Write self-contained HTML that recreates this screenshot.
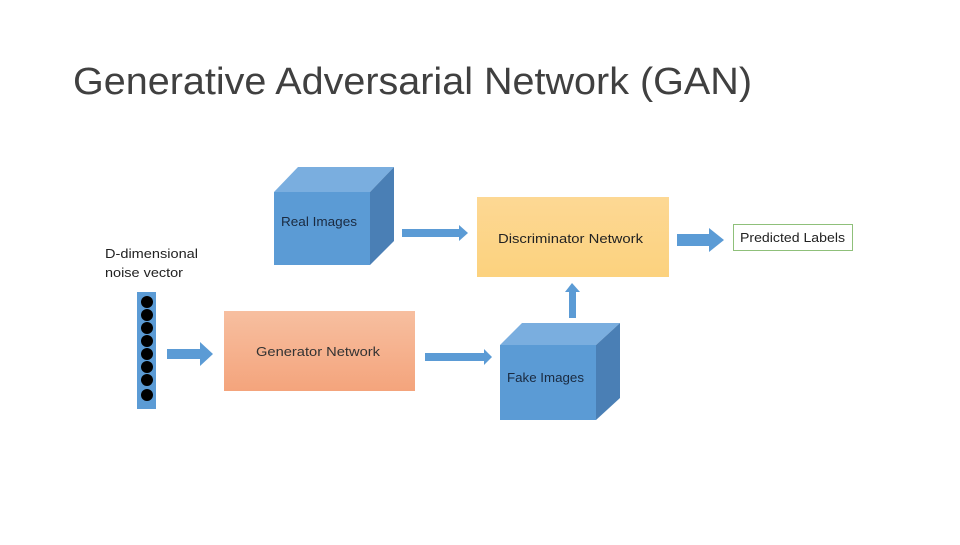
<!DOCTYPE html>
<html><head><meta charset="utf-8"><style>
body{margin:0;background:#fff;}
svg text{font-family:"Liberation Sans",sans-serif;}
</style></head><body>
<svg width="960" height="540" viewBox="0 0 960 540" xmlns="http://www.w3.org/2000/svg">
<defs>
<linearGradient id="gy" x1="0" y1="0" x2="0" y2="1"><stop offset="0" stop-color="#fdd894"/><stop offset="1" stop-color="#fcd27e"/></linearGradient>
<linearGradient id="go" x1="0" y1="0" x2="0" y2="1"><stop offset="0" stop-color="#f7bfa0"/><stop offset="1" stop-color="#f4a47c"/></linearGradient>
</defs>
<text x="73" y="94" font-size="38" fill="#404040" textLength="679" lengthAdjust="spacingAndGlyphs">Generative Adversarial Network (GAN)</text>

<!-- Real Images cube -->
<polygon points="274,192 298,167 394,167 370,192" fill="#7aaedf"/>
<polygon points="370,192 394,167 394,241 370,265" fill="#4a7fb5"/>
<rect x="274" y="192" width="96" height="73" fill="#5b9bd5"/>
<text x="281" y="226" font-size="13" fill="#1a2a40" textLength="76" lengthAdjust="spacingAndGlyphs">Real Images</text>

<!-- Fake Images cube -->
<polygon points="500,345 522,323 620,323 596,345" fill="#7aaedf"/>
<polygon points="596,345 620,323 620,398 596,420" fill="#4a7fb5"/>
<rect x="500" y="345" width="96" height="75" fill="#5b9bd5"/>
<text x="507" y="382" font-size="13" fill="#1a2a40" textLength="77" lengthAdjust="spacingAndGlyphs">Fake Images</text>

<!-- Discriminator -->
<rect x="477" y="197" width="192" height="80" fill="url(#gy)"/>
<text x="498" y="243" font-size="13" fill="#222" textLength="145" lengthAdjust="spacingAndGlyphs">Discriminator Network</text>

<!-- Generator -->
<rect x="224" y="311" width="191" height="80" fill="url(#go)"/>
<text x="256" y="356" font-size="13" fill="#333" textLength="124" lengthAdjust="spacingAndGlyphs">Generator Network</text>

<!-- Predicted labels -->
<rect x="733.5" y="224.5" width="119" height="26" fill="#fff" stroke="#8fc07a"/>
<text x="740" y="242" font-size="13" fill="#222" textLength="105" lengthAdjust="spacingAndGlyphs">Predicted Labels</text>

<!-- noise text -->
<text x="105" y="258" font-size="13" fill="#222" textLength="93" lengthAdjust="spacingAndGlyphs">D-dimensional</text>
<text x="105" y="277" font-size="13" fill="#222" textLength="78" lengthAdjust="spacingAndGlyphs">noise vector</text>

<!-- noise bar -->
<rect x="137" y="292" width="19" height="117" fill="#5b9bd5"/>
<g fill="#000">
<circle cx="147" cy="302" r="6"/><circle cx="147" cy="315" r="6"/><circle cx="147" cy="328" r="6"/>
<circle cx="147" cy="341" r="6"/><circle cx="147" cy="354" r="6"/><circle cx="147" cy="367" r="6"/>
<circle cx="147" cy="380" r="6"/><circle cx="147" cy="395" r="6"/>
</g>

<!-- arrows -->
<g fill="#5b9bd5">
<polygon points="402,229 459,229 459,225 468,233 459,241 459,237 402,237"/>
<polygon points="677,234 709,234 709,228 724,240 709,252 709,246 677,246"/>
<polygon points="167,349 200,349 200,342 213,354 200,366 200,359 167,359"/>
<polygon points="425,353 484,353 484,349 492,357 484,365 484,361 425,361"/>
<polygon points="569,318 569,292 565,292 572,283 580,292 576,292 576,318"/>
</g>
</svg>
</body></html>
